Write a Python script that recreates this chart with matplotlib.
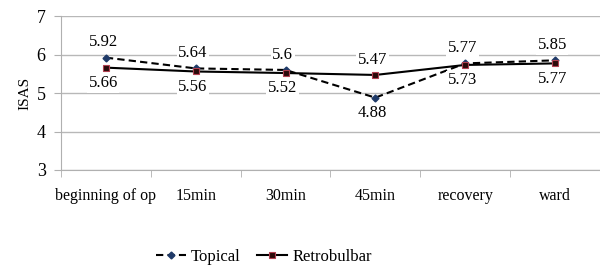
import matplotlib.pyplot as plt
import numpy as np

# ISAS scores over time, two anaesthesia groups
categories = ['beginning of op', '15min', '30min', '45min', 'recovery', 'ward']
topical = [5.92, 5.64, 5.6, 4.88, 5.77, 5.85]
retrobulbar = [5.66, 5.56, 5.52, 5.47, 5.73, 5.77]
# label placement: +1 above point, -1 below
topical_pos = [1, 1, 1, -1, 1, 1]
retro_pos = [-1, -1, -1, 1, -1, -1]

plt.rcParams['font.family'] = ['Liberation Serif', 'DejaVu Serif']

fig = plt.figure(figsize=(6, 2.68), dpi=100)
ax = fig.add_axes([0.1017, 0.3657, 0.898, 0.5743])

x = np.arange(len(categories))
ax.plot(x, topical, color='black', ls=(0, (3.5, 2)), lw=1.5, marker='D', ms=3.5,
        mfc='#1f3a68', mec='#1f3a68', label='Topical', zorder=3)
ax.plot(x, retrobulbar, color='black', lw=1.5, marker='s', ms=5,
        mfc='#2a0a0a', mec='#b04050', mew=0.8, label='Retrobulbar', zorder=3)

def put_labels(vals, pos):
    for xi, v, p in zip(x, vals, pos):
        ax.annotate(f'{v:g}', (xi, v), xytext=(-2, 11 * p), textcoords='offset points',
                    ha='center', va='center', fontsize=12,
                    bbox=dict(boxstyle='square,pad=0.1', fc='white', ec='none'), zorder=4)

put_labels(topical, topical_pos)
put_labels(retrobulbar, retro_pos)

ax.set_xlim(-0.5, len(categories) - 0.5)
ax.set_ylim(3, 7)
ax.set_yticks([3, 4, 5, 6, 7])
ax.set_xticks(x)
ax.set_xticklabels(categories, fontsize=11.5)
ax.set_xticks(np.arange(len(categories) + 1) - 0.5, minor=True)
ax.tick_params(axis='x', which='major', length=0, pad=13)
ax.tick_params(axis='x', which='minor', length=5, color='#b0b0b0', direction='out')
ax.tick_params(axis='y', length=5, color='#b0b0b0', labelsize=13, pad=6)
ax.grid(axis='y', color='#b8b8b8', lw=1)
ax.set_axisbelow(True)
for s in ['top', 'right']:
    ax.spines[s].set_visible(False)
for s in ['left', 'bottom']:
    ax.spines[s].set_color('#b0b0b0')
ax.set_ylabel('ISAS', fontsize=11, labelpad=4)

fig.legend(loc='lower center', bbox_to_anchor=(0.44, -0.045), ncol=2, frameon=False,
           fontsize=12, handlelength=1.8, columnspacing=1.0, handletextpad=0.3)

fig.savefig('out.png', dpi=100)
